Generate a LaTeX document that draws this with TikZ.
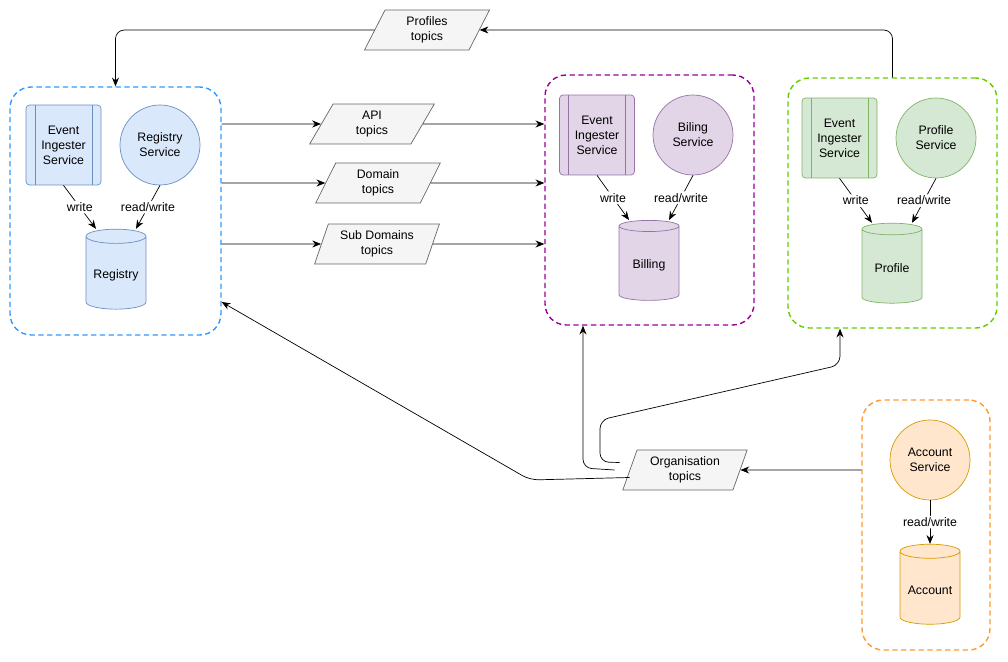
\documentclass[tikz,border=0pt]{standalone}
\usepackage{fontspec}
\setmainfont{Liberation Sans}
\usetikzlibrary{shapes.geometric,arrows.meta}
\definecolor{bluefill}{HTML}{DAE8FC}\definecolor{bluedraw}{HTML}{6C8EBF}
\definecolor{purplefill}{HTML}{E1D5E7}\definecolor{purpledraw}{HTML}{9673A6}
\definecolor{greenfill}{HTML}{D5E8D4}\definecolor{greendraw}{HTML}{82B366}
\definecolor{orangefill}{HTML}{FFE6CC}\definecolor{orangedraw}{HTML}{D79B00}
\definecolor{topicfill}{HTML}{F5F5F5}\definecolor{topicdraw}{HTML}{666666}
\definecolor{grpblue}{HTML}{3399FF}\definecolor{grppurple}{HTML}{990099}
\definecolor{grpgreen}{HTML}{66CC00}\definecolor{grporange}{HTML}{FF9933}
\tikzset{
  every node/.style={font=\fontsize{7}{8.5}\selectfont, align=center},
  group/.style={draw=#1, dashed, line width=0.8pt, rounded corners=12pt, dash pattern=on 3pt off 2pt},
  ingester/.style={draw=#1, rectangle, rounded corners=2pt, minimum width=1.5cm, minimum height=1.6cm,
    path picture={\draw[#1] ([xshift=0.18cm]path picture bounding box.north west) -- ([xshift=0.18cm]path picture bounding box.south west);
                  \draw[#1] ([xshift=-0.18cm]path picture bounding box.north east) -- ([xshift=-0.18cm]path picture bounding box.south east);}},
  service/.style={draw=#1, circle, minimum size=1.6cm, inner sep=0pt},
  store/.style={draw=#1, cylinder, shape border rotate=90, aspect=0.25, minimum width=1.2cm, minimum height=1.6cm},
  topic/.style={draw=topicdraw, fill=topicfill, trapezium, trapezium left angle=70, trapezium right angle=110,
    trapezium stretches=true, minimum width=2.5cm, minimum height=0.8cm, inner sep=1pt},
  lbl/.style={fill=white, inner sep=1pt},
  link/.style={-{Stealth[length=5pt,width=4pt]}, rounded corners=5pt}
}
\begin{document}
\begin{tikzpicture}[x=0.02cm, y=-0.02cm]
  \useasboundingbox (0,0) rectangle (1008,662);
  % groups
  \node[group=grpblue, minimum width=4.22cm, minimum height=4.96cm] (blue) at (115.5,211) {};
  \node[group=grppurple, minimum width=4.18cm, minimum height=5cm] (purple) at (649.5,200) {};
  \node[group=grpgreen, minimum width=4.18cm, minimum height=5cm] (green) at (892.5,203) {};
  \node[group=grporange, minimum width=2.56cm, minimum height=5cm] (orange) at (926,525) {};
  % registry
  \node[ingester=bluedraw, fill=bluefill] (reging) at (63.5,145) {Event\\Ingester\\Service};
  \node[service=bluedraw, fill=bluefill] (regsvc) at (160,145) {Registry\\Service};
  \node[store=bluedraw, fill=bluefill] (regdb) at (116,275) {Registry};
  \draw[link] (reging.south) -- node[lbl]{write} ([xshift=-0.4cm]regdb.top);
  \draw[link] (regsvc.south) -- node[lbl]{read/write} ([xshift=0.4cm]regdb.top);
  % billing
  \node[ingester=purpledraw, fill=purplefill] (billing) at (597,135) {Event\\Ingester\\Service};
  \node[service=purpledraw, fill=purplefill] (billsvc) at (693,135) {Biling\\Service};
  \node[store=purpledraw, fill=purplefill] (billdb) at (649,265) {Billing};
  \draw[link] (billing.south) -- node[lbl]{write} ([xshift=-0.4cm]billdb.top);
  \draw[link] (billsvc.south) -- node[lbl]{read/write} ([xshift=0.4cm]billdb.top);
  % profile
  \node[ingester=greendraw, fill=greenfill] (profing) at (839.5,138) {Event\\Ingester\\Service};
  \node[service=greendraw, fill=greenfill] (profsvc) at (936,138) {Profile\\Service};
  \node[store=greendraw, fill=greenfill] (profdb) at (892,268) {Profile};
  \draw[link] (profing.south) -- node[lbl]{write} ([xshift=-0.4cm]profdb.top);
  \draw[link] (profsvc.south) -- node[lbl]{read/write} ([xshift=0.4cm]profdb.top);
  % account
  \node[service=orangedraw, fill=orangefill] (accsvc) at (930,460) {Account\\Service};
  \node[store=orangedraw, fill=orangefill] (accdb) at (930,590) {Account};
  \draw[link] (accsvc.south) -- node[lbl]{read/write} (accdb.top);
  % topics
  \node[topic] (proftopic) at (427,30) {Profiles\\topics};
  \node[topic] (apitopic) at (372,124) {API\\topics};
  \node[topic] (domtopic) at (378,183) {Domain\\topics};
  \node[topic] (subtopic) at (377,244) {Sub Domains\\topics};
  \node[topic] (orgtopic) at (685,470) {Organisation\\topics};
  % connectors
  \draw[link] (blue.east |- apitopic) -- (apitopic.west);
  \draw[link] (apitopic.east) -- (purple.west |- apitopic);
  \draw[link] (blue.east |- domtopic) -- (domtopic.west);
  \draw[link] (domtopic.east) -- (purple.west |- domtopic);
  \draw[link] (blue.east |- subtopic) -- (subtopic.west);
  \draw[link] (subtopic.east) -- (purple.west |- subtopic);
  \draw[link] (green.north) -- (green.north |- proftopic) -- (proftopic.east);
  \draw[link] (proftopic.west) -- (blue.north |- proftopic) -- (blue.north);
  \draw[link] (orange.west |- orgtopic) -- (orgtopic.east);
  \coordinate (bluein) at (blue.east |- 0,302);
  \draw[link] ([yshift=-0.15cm]orgtopic.west) -- (530,480) -- (bluein);
  \draw[link] ([xshift=-0.3cm]orgtopic.west) -- (583,468) -- (purple.south -| 583,0);
  \draw[link] ([xshift=-0.2cm,yshift=0.15cm]orgtopic.west) -- (600,462) -- (600,420) -- (840,365) -- (green.south -| 840,0);
\end{tikzpicture}
\end{document}
